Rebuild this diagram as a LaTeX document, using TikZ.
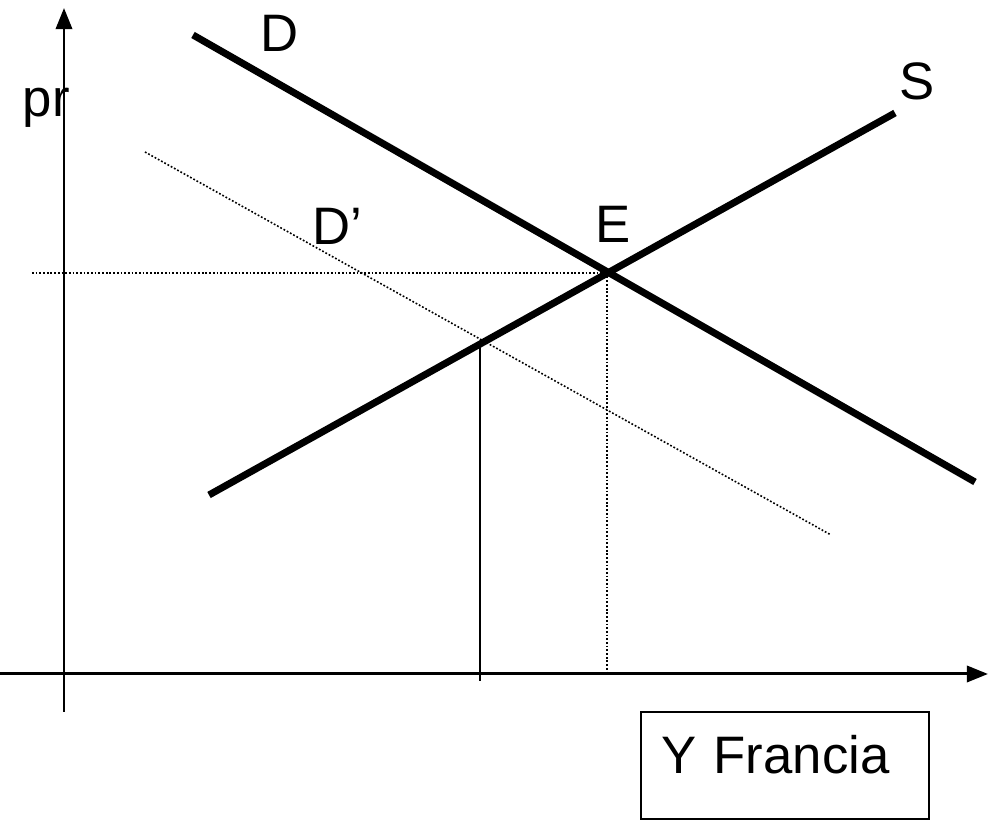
\documentclass[tikz,border=0pt]{standalone}
\usepackage{fontspec}
\setmainfont{Liberation Sans}
\usetikzlibrary{arrows.meta}

\begin{document}
\begin{tikzpicture}[x=0.1mm, y=-0.1mm,
  axis/.style={line width=0.85pt, -{Triangle[length=6pt, width=4.6pt]}},
  curve/.style={line width=2pt},
  guide/.style={line width=0.45pt, dash pattern=on 0.5pt off 0.55pt},
  lbl/.style={font=\fontsize{15}{18}\selectfont, inner sep=0pt, anchor=base}
]
\useasboundingbox (0,0) rectangle (988,826);
% axes
\coordinate (ybot) at (64,712);
\coordinate (ytop) at (64,8);
\coordinate (xleft) at (0,674);
\coordinate (xright) at (988,674);
\draw[axis] (ybot) -- (ytop);
\draw[axis] (xleft) -- (xright);
% demand, supply and shifted demand
\coordinate (dA) at (193,35);
\coordinate (dB) at (975,482);
\coordinate (sA) at (209,495);
\coordinate (sB) at (895,113);
\coordinate (dpA) at (145,152);
\coordinate (dpB) at (831,535);
\coordinate (eq) at (607,273);
\coordinate (eqp) at (480,344);
\draw[curve] (dA) -- (dB);
\draw[curve] (sA) -- (sB);
\draw[guide] (dpA) -- (dpB);
% guides to the axes
\coordinate (pleft) at (32,273);
\coordinate (qeq) at (607,674);
\coordinate (qnew) at (480,681);
\draw[guide] (pleft) -- (eq);
\draw[guide] (eq) -- (qeq);
\draw[line width=0.6pt] (eqp) -- (qnew);
% labels
\node[lbl, anchor=base west] (pr) at (22,117) {pr};
\node[lbl] (labD) at (280,52) {D};
\node[lbl] (labDp) at (337,245) {D’};
\node[lbl] (labE) at (613,243) {E};
\node[lbl] (labS) at (917,100) {S};
\node[draw, line width=0.6pt, anchor=north west, inner xsep=0.2cm, inner ysep=0pt,
      text width=2.48cm, align=left, text height=0.61cm, text depth=0.46cm,
      font=\fontsize{15}{18}\selectfont] (country) at (640,711) {Y Francia};
\end{tikzpicture}
\end{document}
